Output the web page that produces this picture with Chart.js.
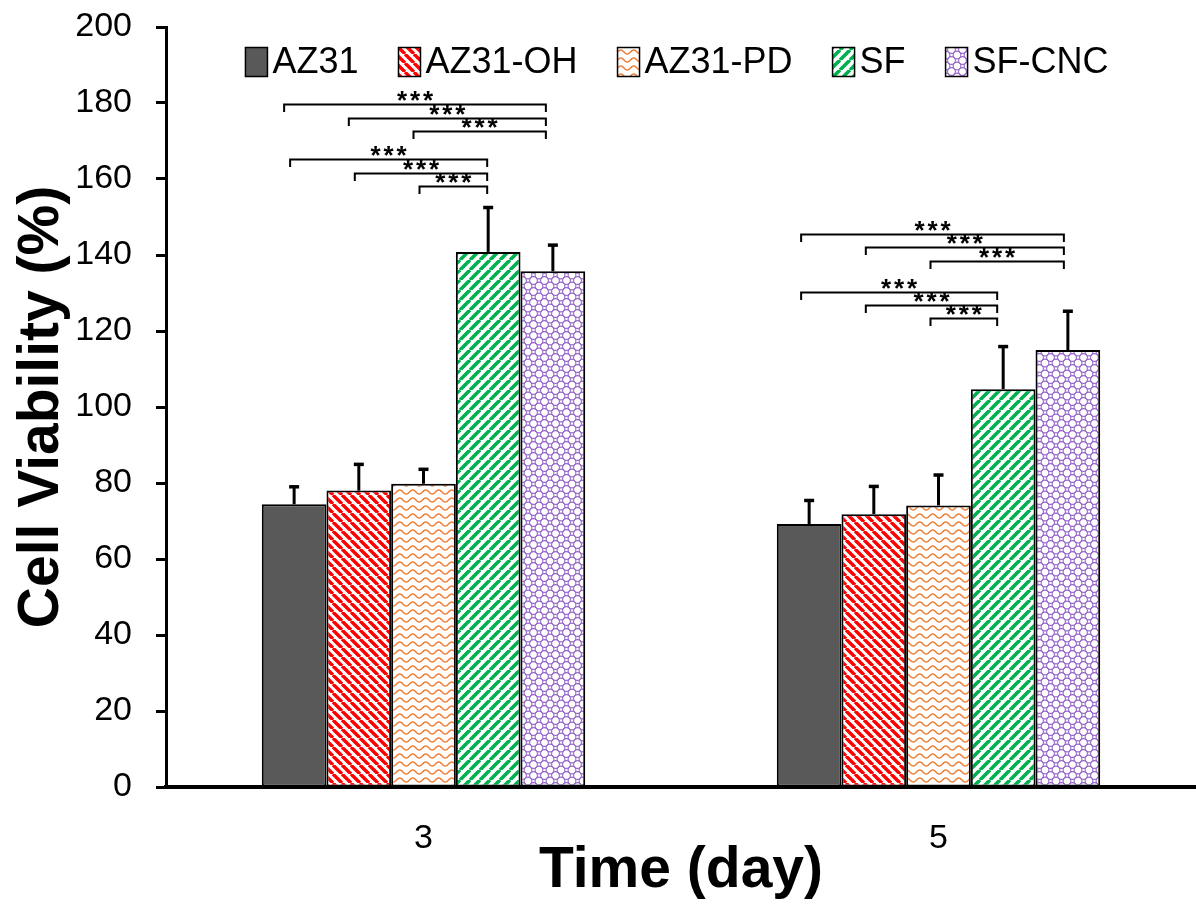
<!DOCTYPE html>
<html>
<head>
<meta charset="utf-8">
<title>Cell Viability</title>
<script src="https://cdn.jsdelivr.net/npm/chart.js@4.4.1/dist/chart.umd.min.js"></script>
<style>
  html, body { margin: 0; padding: 0; background: #ffffff; }
  #wrap { width: 1196px; height: 909px; }
</style>
</head>
<body>
<div id="wrap"><canvas id="c" width="1196" height="909"></canvas></div>
<script>
// ---- data ----
const days = ['3', '5'];
const groups = ['AZ31', 'AZ31-OH', 'AZ31-PD', 'SF', 'SF-CNC'];

const viabilityAZ31   = [74.4, 69.2];
const viabilityAZ31OH = [78.0, 71.8];
const viabilityAZ31PD = [79.8, 74.1];
const viabilitySF     = [140.8, 104.7];
const viabilitySFCNC  = [135.7, 115.0];

const sdAZ31   = [4.6, 6.2];
const sdAZ31OH = [6.9, 7.3];
const sdAZ31PD = [3.8, 8.0];
const sdSF     = [11.7, 11.2];
const sdSFCNC  = [6.9, 10.2];

const yTicks = [0, 20, 40, 60, 80, 100, 120, 140, 160, 180, 200];

// significance brackets: day index, first group, second group, level (%), label
const sigDay   = [0, 0, 0, 0, 0, 0, 1, 1, 1, 1, 1, 1];
const sigFrom  = [0, 1, 2, 0, 1, 2, 0, 1, 2, 0, 1, 2];
const sigTo    = [4, 4, 4, 3, 3, 3, 4, 4, 4, 3, 3, 3];
const sigLevel = [179.7, 176.0, 172.7, 165.2, 161.7, 158.2, 145.5, 142.0, 138.5, 130.3, 126.8, 123.3];
const sigLabel = ['***', '***', '***', '***', '***', '***', '***', '***', '***', '***', '***', '***'];

const seriesValues = [viabilityAZ31, viabilityAZ31OH, viabilityAZ31PD, viabilitySF, viabilitySFCNC];
const seriesErrors = [sdAZ31, sdAZ31OH, sdAZ31PD, sdSF, sdSFCNC];

// ---- fills ----
const FONT = "'Liberation Sans', Arial, Helvetica, sans-serif";
const canvas = document.getElementById('c');
const ctx = canvas.getContext('2d');

function makeTile(w, h, draw) {
  const t = document.createElement('canvas');
  t.width = w; t.height = h;
  const g = t.getContext('2d');
  g.fillStyle = '#ffffff';
  g.fillRect(0, 0, w, h);
  draw(g, w, h);
  return ctx.createPattern(t, 'repeat');
}

// red back-diagonal stripes
const fillOH = makeTile(9, 9, (g, w, h) => {
  g.strokeStyle = '#ff0000'; g.lineWidth = 3.4;
  g.beginPath();
  for (let k = -1; k <= 1; k++) { g.moveTo(k * w, 0); g.lineTo(k * w + w, h); }
  g.stroke();
});
// orange waves
const fillPD = makeTile(13, 8, (g, w, h) => {
  g.strokeStyle = '#ed7d31'; g.lineWidth = 1.5;
  g.beginPath();
  for (let x = -1; x <= w + 1; x += 0.5) {
    const yy = h / 2 + 2 * Math.sin(2 * Math.PI * x / w);
    if (x === -1) g.moveTo(x, yy); else g.lineTo(x, yy);
  }
  g.stroke();
});
// green forward-diagonal stripes
const fillSF = makeTile(10, 10, (g, w, h) => {
  g.strokeStyle = '#00b050'; g.lineWidth = 3.6;
  g.beginPath();
  for (let k = -1; k <= 1; k++) { g.moveTo(k * w, h); g.lineTo(k * w + w, 0); }
  g.stroke();
});
// purple lattice of rings
const fillCNC = makeTile(11, 11, (g, w, h) => {
  g.strokeStyle = '#9466c8'; g.lineWidth = 1.1;
  const r = 3.9;
  [[w / 2, h / 2], [0, 0], [w, 0], [0, h], [w, h]].forEach(([cx, cy]) => {
    g.beginPath(); g.arc(cx, cy, r, 0, Math.PI * 2); g.stroke();
  });
});
const fills = ['#595959', fillOH, fillPD, fillSF, fillCNC];

// ---- plugins ----
const errorBars = {
  id: 'errorBars',
  afterDatasetsDraw(chart) {
    const ys = chart.scales.y;
    const c = chart.ctx;
    c.save();
    c.strokeStyle = '#000000';
    chart.data.datasets.forEach((ds, i) => {
      const meta = chart.getDatasetMeta(i);
      meta.data.forEach((bar, j) => {
        const top = ys.getPixelForValue(ds.data[j] + seriesErrors[i][j]);
        c.lineWidth = 3;
        c.beginPath(); c.moveTo(bar.x, bar.y); c.lineTo(bar.x, top); c.stroke();
        c.lineWidth = 3.5;
        c.beginPath(); c.moveTo(bar.x - 5, top); c.lineTo(bar.x + 5, top); c.stroke();
      });
    });
    c.restore();
  }
};

// bracket end nudges (px) per day and target group
function nudge(day, to) {
  if (day === 0) return to === 4 ? [-10, -7] : [-4, -1];
  return to === 4 ? [-8, -4] : [-8, -6];
}

const brackets = {
  id: 'brackets',
  afterDatasetsDraw(chart) {
    const ys = chart.scales.y;
    const c = chart.ctx;
    c.save();
    c.strokeStyle = '#000000';
    c.fillStyle = '#000000';
    c.lineWidth = 2;
    c.font = `bold 26px ${FONT}`;
    c.textAlign = 'center';
    c.textBaseline = 'alphabetic';
    sigLevel.forEach((lvl, k) => {
      const d = sigDay[k];
      const [nl, nr] = nudge(d, sigTo[k]);
      const x1 = chart.getDatasetMeta(sigFrom[k]).data[d].x + nl;
      const x2 = chart.getDatasetMeta(sigTo[k]).data[d].x + nr;
      const yy = Math.round(ys.getPixelForValue(lvl)) + 0.5;
      c.beginPath();
      c.moveTo(x1, yy + 7.5); c.lineTo(x1, yy); c.lineTo(x2, yy); c.lineTo(x2, yy + 7.5);
      c.stroke();
      const cx = (x1 + x2) / 2;
      const stars = sigLabel[k].split('');
      stars.forEach((s, n) => {
        c.fillText(s, cx + (n - (stars.length - 1) / 2) * 13, yy + 4);
      });
    });
    c.restore();
  }
};

const topLegend = {
  id: 'topLegend',
  afterDraw(chart) {
    const c = chart.ctx;
    c.save();
    c.font = `36px ${FONT}`;
    c.textBaseline = 'middle';
    c.textAlign = 'left';
    const bw = 22, bh = 29, gapText = 5, gapItem = 40;
    const labels = chart.data.datasets.map(ds => ds.label);
    const widths = labels.map(l => c.measureText(l).width);
    const total = widths.reduce((a, w) => a + bw + gapText + w, 0) + gapItem * (labels.length - 1);
    let x = 677 - total / 2;
    const yMid = 62;
    labels.forEach((l, i) => {
      c.fillStyle = chart.data.datasets[i].backgroundColor;
      c.fillRect(x, yMid - bh / 2, bw, bh);
      c.strokeStyle = '#000000';
      c.lineWidth = 1.5;
      c.strokeRect(x, yMid - bh / 2, bw, bh);
      c.fillStyle = '#000000';
      c.fillText(l, x + bw + gapText, yMid + 1);
      x += bw + gapText + widths[i] + gapItem;
    });
    c.restore();
  }
};

// ---- chart ----
new Chart(ctx, {
  type: 'bar',
  data: {
    labels: days,
    datasets: groups.map((g, i) => ({
      label: g,
      data: seriesValues[i],
      backgroundColor: fills[i],
      borderColor: '#000000',
      borderWidth: 2,
      borderSkipped: false,
      barPercentage: 1,
      categoryPercentage: 0.628
    }))
  },
  options: {
    responsive: false,
    animation: false,
    devicePixelRatio: 1,
    layout: { autoPadding: false, padding: { top: 27, right: -3, bottom: 0, left: 0 } },
    plugins: {
      legend: { display: false },
      tooltip: { enabled: false }
    },
    scales: {
      x: {
        grid: { display: false, drawTicks: false },
        border: { display: true, color: '#000000', width: 4 },
        ticks: { font: { size: 34, family: FONT }, color: '#000000', padding: 31 },
        title: {
          display: true, text: 'Time (day)', color: '#000000',
          font: { size: 57, weight: 'bold', family: FONT },
          padding: { top: 0, bottom: 4 }
        },
        afterFit(scale) { scale.height = 122; scale.paddingLeft = 0; scale.paddingRight = 0; }
      },
      y: {
        min: yTicks[0],
        max: yTicks[yTicks.length - 1],
        afterBuildTicks(scale) { scale.ticks = yTicks.map(v => ({ value: v })); },
        grid: { display: true, drawOnChartArea: false, drawTicks: true, tickLength: 10, tickColor: '#000000', tickWidth: 3 },
        border: { display: true, color: '#000000', width: 3 },
        ticks: { font: { size: 34, family: FONT }, color: '#000000', padding: 24 },
        title: {
          display: true, text: 'Cell Viability (%)', color: '#000000',
          font: { size: 57, weight: 'bold', family: FONT },
          padding: { top: 8, bottom: 0 }
        },
        afterFit(scale) { scale.width = 166; scale.paddingTop = 0; scale.paddingBottom = 0; }
      }
    }
  },
  plugins: [errorBars, brackets, topLegend]
});
</script>
</body>
</html>
